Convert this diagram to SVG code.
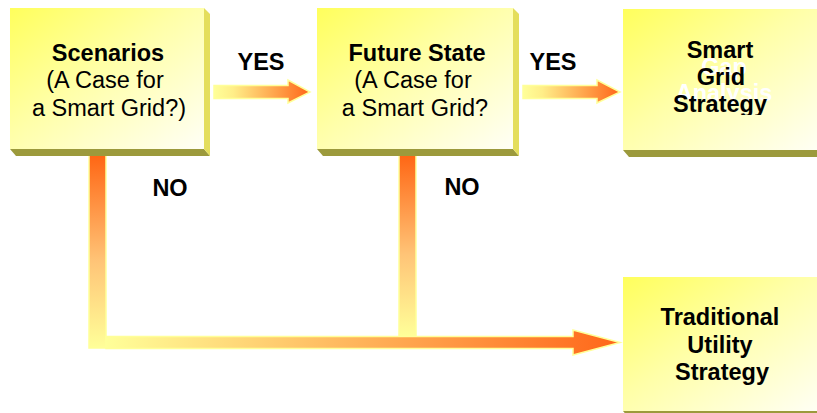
<svg xmlns="http://www.w3.org/2000/svg" width="817" height="413" viewBox="0 0 817 413">
  <style>
    .face { fill: url(#faceGrad); }
    .side { fill: #e4de5c; }
    .bottom { fill: #9c9a3c; }
    text { font-family: "Liberation Sans", Arial, Helvetica, sans-serif; font-size: 23.5px; fill: #000; text-anchor: middle; }
    .b { font-weight: bold; }
    .ghost { fill: #ffffff; font-weight: bold; }
    .rim { stroke: #ffff99; stroke-width: 1.5; stroke-linejoin: miter; }
  </style>
  <defs>
    <linearGradient id="faceGrad" x1="0" y1="0" x2="1" y2="1">
      <stop offset="0" stop-color="#ffff5c"/>
      <stop offset="0.45" stop-color="#ffffa8"/>
      <stop offset="1" stop-color="#fffff6"/>
    </linearGradient>
    <linearGradient id="yesGrad" x1="0" y1="0" x2="1" y2="0">
      <stop offset="0" stop-color="#ffff99"/>
      <stop offset="0.2" stop-color="#ffee88"/>
      <stop offset="1" stop-color="#ff6619"/>
    </linearGradient>
    <linearGradient id="downGrad" x1="0" y1="0" x2="0" y2="1">
      <stop offset="0" stop-color="#ff6614"/>
      <stop offset="0.55" stop-color="#ffc477"/>
      <stop offset="1" stop-color="#ffff99"/>
    </linearGradient>
    <linearGradient id="acrossGrad" gradientUnits="userSpaceOnUse" x1="106" y1="0" x2="620" y2="0">
      <stop offset="0" stop-color="#ffff99"/>
      <stop offset="1" stop-color="#ff6619"/>
    </linearGradient>
    <clipPath id="clipStrategy">
      <rect x="623" y="0" width="194" height="115"/>
    </clipPath>
  </defs>

  <!-- connectors -->
  <g id="connectors">
    <!-- YES arrows -->
    <polygon class="rim" fill="url(#yesGrad)" points="214,85.5 288,85.5 288,80 310,92 288,103 288,98.5 214,98.5"/>
    <polygon class="rim" fill="url(#yesGrad)" points="523,85.5 597,85.5 597,80 620,92 597,103 597,98.5 523,98.5"/>
    <!-- NO drops -->
    <rect class="rim" fill="url(#downGrad)" x="89" y="155" width="17" height="193"/>
    <rect class="rim" fill="url(#downGrad)" x="399" y="155" width="17" height="181"/>
    <!-- run to Traditional Utility Strategy -->
    <polygon class="rim" fill="url(#acrossGrad)" points="106,336.5 573,336.5 573,330 620,342.5 573,355 573,348.5 106,348.5"/>
  </g>

  <!-- Scenarios -->
  <g id="scenarios">
    <polygon class="bottom" points="10,149 204,149 210,156 16,156"/>
    <polygon class="side" points="204,8 210,14 210,156 204,149"/>
    <rect class="face" x="10" y="8" width="194" height="141"/>
    <text class="b" x="108" y="61">Scenarios</text>
    <text x="105" y="88">(A Case for</text>
    <text x="109" y="116">a Smart Grid?)</text>
  </g>

  <!-- Future State -->
  <g id="future-state">
    <polygon class="bottom" points="317,149 513,149 519,156 323,156"/>
    <polygon class="side" points="513,8 519,14 519,156 513,149"/>
    <rect class="face" x="317" y="8" width="196" height="141"/>
    <text class="b" x="417" y="61">Future State</text>
    <text x="413" y="88">(A Case for</text>
    <text x="415" y="116">a Smart Grid?</text>
  </g>

  <!-- Smart Grid Strategy -->
  <g id="smart-grid-strategy">
    <polygon class="bottom" points="623,150 823,150 829,157 629,157"/>
    <rect class="face" x="623" y="9" width="200" height="141"/>
    <text class="ghost" x="724" y="75">Gap</text>
    <text class="ghost" x="724" y="101">Analysis</text>
    <text class="b" x="720" y="58">Smart</text>
    <text class="b" x="721" y="85">Grid</text>
    <text class="b" x="720" y="112" clip-path="url(#clipStrategy)">Strategy</text>
  </g>

  <!-- Traditional Utility Strategy -->
  <g id="traditional-utility-strategy">
    <polygon class="bottom" points="623,411 823,411 829,418 629,418"/>
    <rect class="face" x="623" y="277" width="200" height="134"/>
    <text class="b" x="720" y="325">Traditional</text>
    <text class="b" x="720" y="353">Utility</text>
    <text class="b" x="722" y="380">Strategy</text>
  </g>

  <!-- decision labels -->
  <g id="labels">
    <text class="b" x="261" y="70">YES</text>
    <text class="b" x="553" y="70">YES</text>
    <text class="b" x="170" y="196">NO</text>
    <text class="b" x="462" y="195">NO</text>
  </g>
</svg>
